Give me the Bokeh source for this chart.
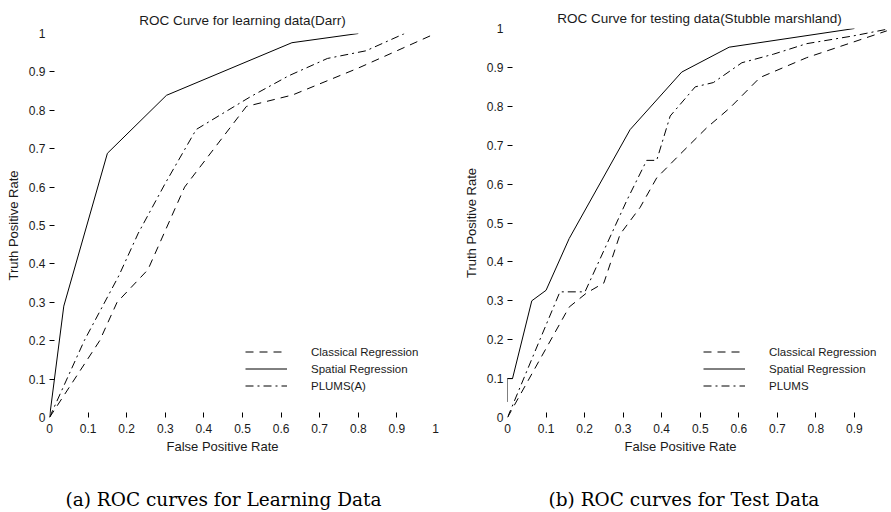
from bokeh.plotting import figure
from bokeh.models import Range1d, FixedTicker, Legend, LegendItem, Title
from bokeh.layouts import row, column
from bokeh.embed import file_html
from bokeh.resources import INLINE

# ---------------- data ----------------
tick_values = [0.0, 0.1, 0.2, 0.3, 0.4, 0.5, 0.6, 0.7, 0.8, 0.9, 1.0]
tick_labels = ["0", "0.1", "0.2", "0.3", "0.4", "0.5", "0.6", "0.7", "0.8", "0.9", "1"]
minor_tick_values = [0.1, 0.2, 0.3, 0.4, 0.5, 0.6, 0.7, 0.8, 0.9]

# (a) learning data (Darr)
learn_classical_fpr = [0.0, 0.13, 0.175, 0.255, 0.35, 0.51, 0.63, 0.80, 1.0]
learn_classical_tpr = [0.0, 0.20, 0.30, 0.385, 0.60, 0.81, 0.84, 0.91, 1.0]
learn_spatial_fpr = [0.0, 0.037, 0.15, 0.303, 0.628, 0.80]
learn_spatial_tpr = [0.0, 0.29, 0.688, 0.839, 0.976, 1.0]
learn_plums_fpr = [0.0, 0.09, 0.18, 0.23, 0.30, 0.38, 0.52, 0.62, 0.72, 0.82, 0.92]
learn_plums_tpr = [0.0, 0.20, 0.37, 0.48, 0.61, 0.75, 0.835, 0.89, 0.935, 0.955, 1.0]

# (b) testing data (Stubble marshland)
test_classical_fpr = [0.0, 0.16, 0.205, 0.25, 0.292, 0.344, 0.387, 0.448, 0.517, 0.577, 0.655, 0.776, 0.984]
test_classical_tpr = [0.0, 0.284, 0.32, 0.346, 0.471, 0.54, 0.616, 0.677, 0.745, 0.796, 0.874, 0.925, 0.994]
test_spatial_fpr = [0.0, 0.0, 0.013, 0.063, 0.10, 0.16, 0.318, 0.452, 0.575, 0.90]
test_spatial_tpr = [0.04, 0.10, 0.10, 0.30, 0.327, 0.46, 0.74, 0.888, 0.952, 1.0]
test_plums_fpr = [0.0, 0.084, 0.136, 0.201, 0.309, 0.361, 0.387, 0.422, 0.487, 0.534, 0.608, 0.69, 0.776, 0.897, 0.984]
test_plums_tpr = [0.0, 0.20, 0.323, 0.323, 0.557, 0.661, 0.661, 0.775, 0.85, 0.861, 0.912, 0.934, 0.961, 0.981, 0.998]

learn_names = ["Classical Regression", "Spatial Regression", "PLUMS(A)"]
test_names = ["Classical Regression", "Spatial Regression", "PLUMS"]

titles = ["ROC Curve for learning data(Darr)", "ROC Curve for testing data(Stubble marshland)"]
captions = ["(a) ROC curves for Learning Data", "(b) ROC curves for Test Data"]
x_label = "False Positive Rate"
y_label = "Truth Positive Rate"

# ---------------- styling ----------------
SANS = "Liberation Sans"
SERIF = "DejaVu Serif"
TXT = "#1a1a1a"
DASHES = ["8 6", "solid", "8 4 2 4"]
PLOT_H = 470
CAP_H = 42


def make_panel(series, names, title, x_max, width, border_left, border_right,
               border_top, frame_h, title_standoff):
    p = figure(width=width, height=PLOT_H,
               x_range=Range1d(0, x_max), y_range=Range1d(0, 1),
               output_backend="svg", toolbar_location=None,
               min_border_left=border_left, min_border_right=border_right,
               min_border_top=border_top, min_border_bottom=PLOT_H - border_top - frame_h,
               title=title)
    p.title.align = "center"
    p.title.text_font = SANS
    p.title.text_font_style = "normal"
    p.title.text_font_size = "13.5px"
    p.title.text_color = TXT
    p.title.standoff = title_standoff
    p.outline_line_color = None
    p.grid.visible = False
    p.background_fill_color = "white"
    p.border_fill_color = "white"

    for ax in (p.xaxis[0], p.yaxis[0]):
        ax.ticker = FixedTicker(ticks=tick_values, minor_ticks=minor_tick_values)
        ax.major_label_overrides = {v: s for v, s in zip(tick_values, tick_labels)}
        ax.axis_line_color = None
        ax.major_tick_line_color = None
        ax.major_tick_in = 0
        ax.major_tick_out = 0
        ax.minor_tick_in = 5
        ax.minor_tick_out = 0
        ax.minor_tick_line_color = "black"
        ax.minor_tick_line_width = 1
        ax.major_label_text_font = SANS
        ax.major_label_text_font_size = "12px"
        ax.major_label_text_color = TXT
    p.xaxis[0].major_label_standoff = 6
    p.yaxis[0].major_label_standoff = 4
    p.yaxis[0].axis_label = y_label
    p.yaxis[0].axis_label_text_font = SANS
    p.yaxis[0].axis_label_text_font_style = "normal"
    p.yaxis[0].axis_label_text_font_size = "13px"
    p.yaxis[0].axis_label_text_color = TXT
    p.yaxis[0].axis_label_standoff = 5

    items = []
    for (fx, ty), name, dash in zip(series, names, DASHES):
        r = p.line(fx, ty, line_color="black", line_width=1, line_dash=dash)
        items.append(LegendItem(label=name, renderers=[r]))
    leg = Legend(items=items, location=(196, 23), border_line_color=None,
                 background_fill_alpha=0, glyph_width=42, glyph_height=17,
                 label_height=17, label_standoff=24, spacing=0, padding=0, margin=0,
                 label_text_font=SANS, label_text_font_size="11.5px",
                 label_text_color=TXT)
    p.add_layout(leg, "center")

    xlab = Title(text=x_label, align="left", offset=117, vertical_align="top",
                 standoff=6, text_font=SANS, text_font_style="normal",
                 text_font_size="13px", text_color=TXT)
    p.add_layout(xlab, "below")
    return p


def make_caption(text, width, border_left, border_right, offset):
    c = figure(width=width, height=CAP_H, x_axis_type=None, y_axis_type=None,
               output_backend="svg", toolbar_location=None,
               min_border_left=border_left, min_border_right=border_right,
               min_border_top=0, min_border_bottom=0,
               title=text, title_location="below")
    c.title.align = "left"
    c.title.offset = offset
    c.title.vertical_align = "bottom"
    c.title.standoff = 5
    c.title.text_font = SERIF
    c.title.text_font_style = "normal"
    c.title.text_font_size = "18.5px"
    c.title.text_color = "black"
    c.outline_line_color = None
    c.background_fill_color = "white"
    c.border_fill_color = "white"
    return c


p1 = make_panel(
    [(learn_classical_fpr, learn_classical_tpr), (learn_spatial_fpr, learn_spatial_tpr),
     (learn_plums_fpr, learn_plums_tpr)],
    learn_names, titles[0], 1.0, width=445, border_left=49, border_right=10,
    border_top=33, frame_h=384, title_standoff=12)

p2 = make_panel(
    [(test_classical_fpr, test_classical_tpr), (test_spatial_fpr, test_spatial_tpr),
     (test_plums_fpr, test_plums_tpr)],
    test_names, titles[1], 384 / 385.5, width=446, border_left=62, border_right=0,
    border_top=28, frame_h=389, title_standoff=5)

c1 = make_caption(captions[0], 445, 49, 10, 16)
c2 = make_caption(captions[1], 446, 62, 0, 41)

layout = row(column(p1, c1, spacing=0), column(p2, c2, spacing=0), spacing=0)
open("out.html", "w").write(file_html(layout, INLINE))
